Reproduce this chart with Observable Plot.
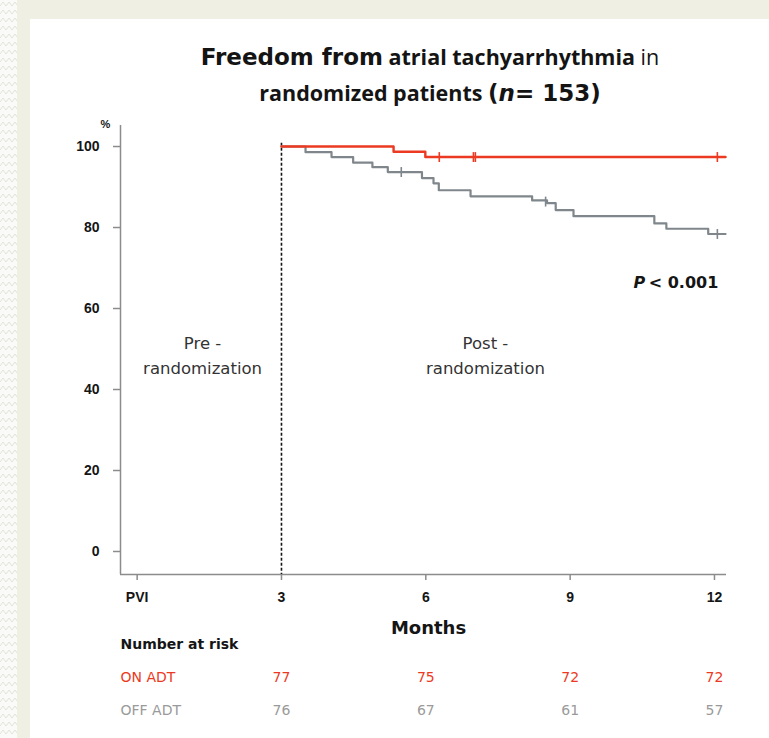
<!DOCTYPE html>
<html><head><meta charset="utf-8">
<script src="https://cdn.jsdelivr.net/npm/d3@7"></script>
<script src="https://cdn.jsdelivr.net/npm/@observablehq/plot@0.6"></script>
<style>
body{margin:0;}
#page{position:relative;width:769px;height:738px;background:#efefe4;overflow:hidden;font-family:"DejaVu Sans",sans-serif;}
#strip{position:absolute;left:0;top:0;width:17px;height:738px;}
#panel{position:absolute;left:30px;top:19px;width:739px;height:719px;background:#fff;}
#title{position:absolute;left:100px;width:660px;top:39px;text-align:center;color:#141414;font-weight:700;}
#title div{height:36px;line-height:36px;white-space:nowrap;}
#title .a{font-family:"DejaVu Sans",sans-serif;font-size:23px;font-weight:700;}
#title .c{font-family:"Open Sans",sans-serif;font-size:21.5px;font-weight:700;}
#title .n{font-weight:400;}
#chart{position:absolute;left:0;top:110px;}
</style></head>
<body>
<div id="page">
  <svg id="strip" width="17" height="738"><defs><pattern id="zz" width="17" height="8" patternUnits="userSpaceOnUse"><path d="M0 6 L3 2 L6 6 L9 2 L12 6 L15 2 L17 5" fill="none" stroke="#e2e2dc" stroke-width="1"/></pattern></defs><rect width="17" height="738" fill="#fafaf8"/><rect width="17" height="738" fill="url(#zz)"/></svg>
  <div id="panel"></div>
  <div id="title">
    <div><span class="a">Freedom from</span> <span class="c">atrial tachyarrhythmia</span> <span class="c n">in</span></div>
    <div><span class="c">randomized patients</span> <span class="a">(<i>n</i>= 153)</span></div>
  </div>
  <div id="chart"></div>
</div>
<script>
// ---- data ----
const xDomain = [-0.346, 12.25];
const yDomain = [-5.68, 105.19];
const xTicks = [0, 3, 6, 9, 12];
const xTickLabels = ["PVI", "3", "6", "9", "12"];
const yTicks = [0, 20, 40, 60, 80, 100];

const groups = ["ON ADT", "OFF ADT"];

const onMonths = [3, 5.33, 5.99, 12.23];
const onSurv = [100, 98.7, 97.4, 97.4];
const onCensorMonths = [6.28, 6.99, 7.03, 12.06];
const onCensorSurv = [97.4, 97.4, 97.4, 97.4];

const offMonths = [3, 3.50, 4.04, 4.49, 4.89, 5.21, 5.92, 6.16, 6.27, 6.93, 8.21, 8.52, 8.70, 9.07, 10.75, 11.00, 11.87, 12.23];
const offSurv   = [100, 98.6, 97.4, 96.0, 94.9, 93.7, 92.2, 90.9, 89.2, 87.7, 86.7, 86.0, 84.3, 82.8, 81.0, 79.7, 78.4, 78.4];
const offCensorMonths = [5.49, 8.49, 12.06];
const offCensorSurv = [93.7, 86.4, 78.4];

const riskMonths = [3, 6, 9, 12];
const riskOn = [77, 75, 72, 72];
const riskOff = [76, 67, 61, 57];

const randomizationMonth = 3;
const phaseLabels = ["Pre -\nrandomization", "Post -\nrandomization"];
const phaseMonths = [1.36, 7.24];
const phaseValues = [48.8, 48.8];

const pLabel = "< 0.001";
const pMonth = 12.08;
const pValue = 66.4;
const pLetterMonth = 10.56;

// ---- styles ----
const red = "#ec3a22";
const grey = "#7f878c";
const axisColor = "#8c8c8c";
const ink = "#151515";
const tickFont = "Liberation Sans, Arial, sans-serif";

const toRows = (xs, ys) => xs.map((x, i) => ({x, y: ys[i]}));
const onLine = toRows(onMonths, onSurv);
const offLine = toRows(offMonths, offSurv);
const onCens = toRows(onCensorMonths, onCensorSurv);
const offCens = toRows(offCensorMonths, offCensorSurv);
const phases = phaseLabels.map((t, i) => ({t, x: phaseMonths[i], y: phaseValues[i]}));
const vbar = {draw(ctx, size) { const h = Math.sqrt(size); ctx.moveTo(0, -h / 2); ctx.lineTo(0, h / 2); }};

const chart = Plot.plot({
  width: 769,
  height: 628,
  marginLeft: 120,
  marginRight: 43,
  marginTop: 15,
  marginBottom: 164,
  style: {background: "transparent", fontFamily: "DejaVu Sans, sans-serif", overflow: "visible"},
  x: {domain: xDomain},
  y: {domain: yDomain},
  marks: [
    Plot.ruleY([yDomain[0]], {stroke: axisColor, strokeWidth: 1.5}),
    Plot.ruleX([xDomain[0]], {stroke: axisColor, strokeWidth: 1.5}),
    Plot.axisX(xTicks, {tickSize: 6, tickPadding: 12, tickFormat: d => xTickLabels[xTicks.indexOf(d)], fontSize: 14, fontWeight: "bold", fontFamily: tickFont, stroke: axisColor, strokeWidth: 1.5, fill: ink, label: null}),
    Plot.axisY(yTicks, {tickSize: 7, tickPadding: 14, fontSize: 14, fontWeight: "bold", fontFamily: tickFont, stroke: axisColor, strokeWidth: 1.5, fill: ink, label: null}),
    Plot.text(["%"], {frameAnchor: "top-left", dx: -20, dy: -5, fontSize: 11, fontWeight: "bold", fontFamily: tickFont, fill: ink}),
    Plot.ruleX([randomizationMonth], {y1: 100.8, y2: yDomain[0], stroke: ink, strokeWidth: 1.6, strokeDasharray: "3,2"}),
    Plot.text(phases, {x: "x", y: "y", text: "t", fontSize: 16.5, lineHeight: 1.5, fill: "#333"}),
    Plot.line(offLine, {x: "x", y: "y", curve: "step-after", stroke: grey, strokeWidth: 2.2}),
    Plot.line(onLine, {x: "x", y: "y", curve: "step-after", stroke: red, strokeWidth: 2.4}),
    Plot.dot(offCens, {x: "x", y: "y", symbol: vbar, r: 5.6, fill: "none", stroke: grey, strokeWidth: 1.6}),
    Plot.dot(onCens, {x: "x", y: "y", symbol: vbar, r: 5.6, fill: "none", stroke: red, strokeWidth: 1.6}),
    Plot.text([pLabel], {x: pMonth, y: pValue, textAnchor: "end", fontSize: 16, fontWeight: "bold", fill: ink}),
    Plot.text(["P"], {x: pLetterMonth, y: pValue, textAnchor: "end", fontSize: 16, fontWeight: "bold", fontStyle: "italic", fill: ink}),
    Plot.text(["Months"], {frameAnchor: "bottom", dx: 5, dy: 59, fontSize: 18, fontWeight: "bold", fill: ink}),
    Plot.text(["Number at risk"], {frameAnchor: "bottom-left", textAnchor: "start", dy: 74, fontSize: 14, fontWeight: "bold", fill: ink}),
    Plot.text([groups[0]], {frameAnchor: "bottom-left", textAnchor: "start", dy: 107, fontSize: 14, fill: red}),
    Plot.text([groups[1]], {frameAnchor: "bottom-left", textAnchor: "start", dy: 140, fontSize: 14, fill: "#9a9a9a"}),
    Plot.text(riskMonths, {x: d => d, text: (d, i) => String(riskOn[i]), frameAnchor: "bottom", dy: 107, fontSize: 14, fill: red}),
    Plot.text(riskMonths, {x: d => d, text: (d, i) => String(riskOff[i]), frameAnchor: "bottom", dy: 140, fontSize: 14, fill: "#9a9a9a"})
  ]
});
document.getElementById("chart").appendChild(chart);
</script>
</body></html>
